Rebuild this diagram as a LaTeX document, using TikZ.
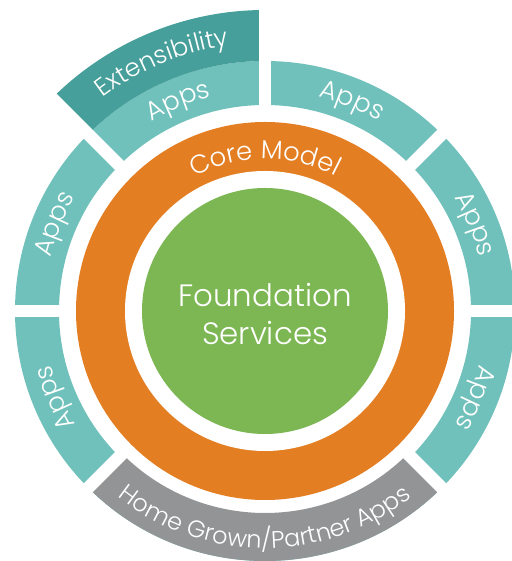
\documentclass[tikz,border=0pt]{standalone}
\usepackage{fontspec}
\setmainfont{Poppins}[UprightFont=* Light]
\usetikzlibrary{decorations.text}
\definecolor{tealL}{HTML}{70C1BB}
\definecolor{tealD}{HTML}{469F9A}
\definecolor{coreO}{HTML}{E47E22}
\definecolor{foundG}{HTML}{7CB753}
\definecolor{homeG}{HTML}{939496}
\tikzset{
  ringtxt/.style n args={3}{decorate, decoration={text along path, text align=center, text color=white,
     text={|\fontsize{#1}{#1}\selectfont|#2}}},
  gapline/.style={white, line width=12.5bp},
}
\newcommand{\sector}[5]{% color, a1, a2, r1, r2
  \fill[#1] (#2:#4) arc[start angle=#2, end angle=#3, radius=#4 bp] -- (#3:#5) arc[start angle=#3, end angle=#2, radius=#5 bp] -- cycle;}
\begin{document}
\begin{tikzpicture}[x=1bp, y=1bp]
\useasboundingbox (0,0) rectangle (512,561);
\begin{scope}[shift={(265,250)}]
\coordinate (c) at (0,0);
% outer ring
\sector{tealL}{0}{360}{206}{250}
\sector{homeG}{225}{315}{202}{250}
\sector{tealD}{90}{135}{250}{301}
% gaps
\foreach \a in {0,45,90,135,180,225,315} \draw[gapline] (c) -- (\a:330);
% inner rings
\fill[coreO] (c) circle[radius=189bp];
\fill[white] (c) circle[radius=140bp];
\fill[foundG] (c) circle[radius=123bp];
% centre text
\node[anchor=base, text=white, font=\fontsize{31}{31}\selectfont] (f1) at (0,4) {Foundation};
\node[anchor=base, text=white, font=\fontsize{31}{31}\selectfont] (f2) at (0,-34) {Services};
% ring texts
\path[ringtxt={26}{Core Model}] (160:152) arc[start angle=160, end angle=20, radius=152bp];
\path[ringtxt={25}{Extensibility}] (135:268) arc[start angle=135, end angle=90, radius=268bp];
\foreach \m in {112.5,67.5,22.5,-22.5,157.5,202.5}
  \path[ringtxt={26}{Apps}] (\m+22:221) arc[start angle=\m+22, end angle=\m-22, radius=221bp];
\path[ringtxt={24}{Home Grown/Partner Apps}] (220:237) arc[start angle=220, end angle=320, radius=237bp];
\end{scope}
\end{tikzpicture}
\end{document}
